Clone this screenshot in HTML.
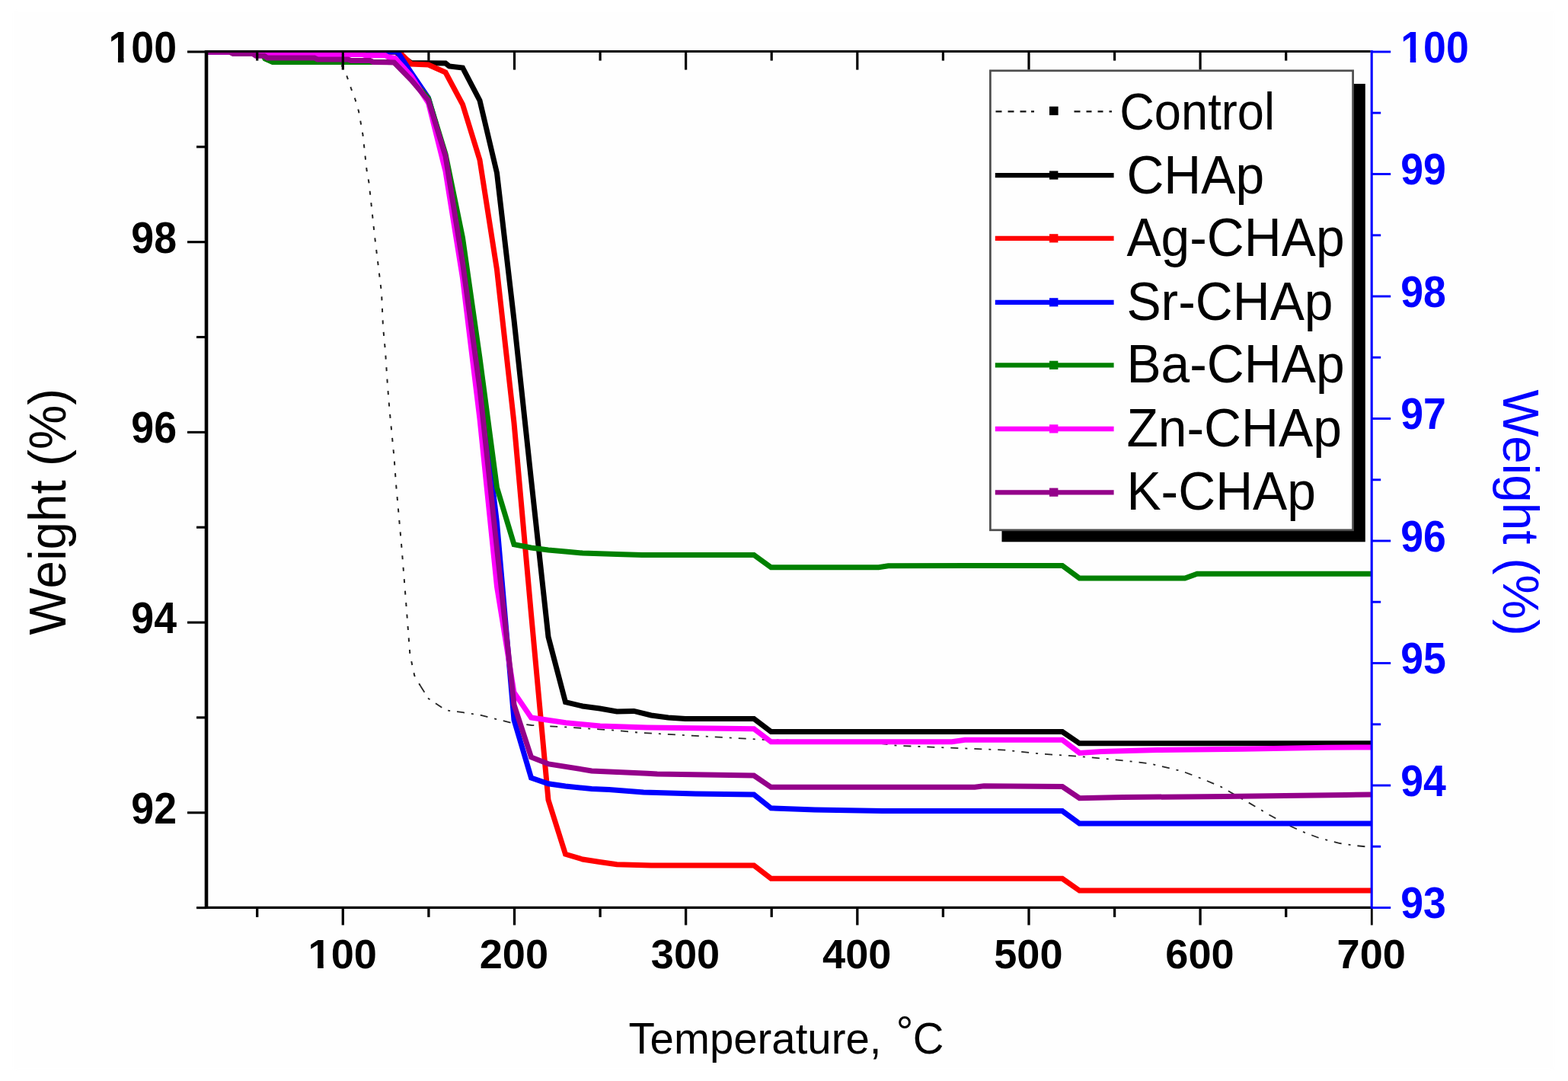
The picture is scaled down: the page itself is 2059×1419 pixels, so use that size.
<!DOCTYPE html>
<html lang="en">
<head>
<meta charset="utf-8">
<title>TGA: Weight (%) vs Temperature</title>
<style>
html,body{margin:0;padding:0;background:#ffffff;}
html{width:2059px;height:1419px;}
body{width:2059px;height:1419px;position:relative;font-family:"Liberation Sans",sans-serif;}
svg{display:block;position:absolute;left:0;top:0;width:2059px;height:1419px;}
text{font-family:"Liberation Sans",sans-serif;}
</style>
</head>
<body>
<svg width="2059" height="1419" viewBox="0 0 2059 1419">
<defs><filter id="soft" x="-2%" y="-2%" width="104%" height="104%"><feGaussianBlur stdDeviation="3.5"/></filter><clipPath id="plot"><rect x="271" y="68.8" width="1530.2" height="1123.8000000000002"/></clipPath></defs>
<rect x="0" y="0" width="2059" height="1419" fill="#ffffff"/>
<rect x="14" y="12" width="2030" height="1394" fill="#fefefe" filter="url(#soft)"/>

<g fill="none" stroke-linejoin="miter" stroke-linecap="butt" clip-path="url(#plot)">
<polyline points="270.0,69.0 440.0,72.0 450.0,88.0 455.3,99.5 461.0,116.0 466.6,131.0 471.0,146.0 473.5,160.0 476.5,177.0 479.0,200.0 481.5,223.0 484.5,240.0 492.0,310.0 501.0,384.0 503.0,429.0 506.0,461.0 509.0,507.0 511.5,538.0 514.5,569.0 517.5,600.0 520.0,635.0 527.7,721.6 533.5,795.4 538.4,859.5 544.2,886.7 552.0,900.3" stroke="#222" stroke-width="2" stroke-dasharray="5 10.5"/>
<polyline points="552.0,900.3 562.7,917.0 585.3,932.3 607.8,935.2 630.4,938.6 653.0,944.3 671.0,948.8 698.0,952.0 743.0,954.4 810.8,959.0 837.8,961.6 997.0,970.7 1150.0,975.3 1178.8,978.8 1320.0,984.6 1368.0,989.6 1418.7,993.0 1464.0,997.2 1509.6,1002.3 1552.5,1012.4 1577.8,1022.0 1603.0,1032.6 1638.4,1052.8 1666.0,1069.2 1694.0,1084.3 1714.0,1093.2 1734.4,1100.8 1759.6,1107.0 1779.8,1110.0 1800.0,1112.0" stroke="#262626" stroke-width="1.8" stroke-dasharray="10 9 3 9"/>
<polyline points="270.0,68.0 519.0,68.0 540.0,82.6 585.0,83.0 590.0,87.0 607.5,89.0 630.0,132.0 652.5,227.0 675.0,420.0 697.5,629.5 720.0,836.0 742.5,921.7 765.0,927.0 787.5,930.0 810.0,934.0 832.5,933.4 855.0,939.0 877.5,942.0 900.0,943.4 990.0,943.4 1012.5,960.6 1395.0,960.6 1417.5,975.8 1800.0,975.8" stroke="#000000" stroke-width="7.0"/>
<polyline points="270.0,68.0 524.0,68.0 540.0,84.0 562.5,85.0 585.0,95.0 607.5,137.0 630.0,210.0 652.5,354.0 675.0,555.0 697.5,806.0 720.0,1050.0 742.5,1121.3 765.0,1128.0 787.5,1131.5 810.0,1134.8 855.0,1136.0 990.0,1136.0 1012.5,1153.3 1395.0,1153.3 1417.5,1169.0 1800.0,1169.0" stroke="#ff0000" stroke-width="7.0"/>
<polyline points="270.0,68.0 522.0,68.0 540.0,95.5 562.5,128.5 585.0,206.0 607.5,340.0 630.0,500.0 652.5,686.0 675.0,945.0 697.5,1021.0 720.0,1028.8 742.5,1032.0 777.0,1035.6 800.0,1036.4 845.0,1040.0 913.6,1042.0 990.0,1043.0 1012.5,1060.9 1070.0,1063.0 1158.6,1064.6 1395.0,1064.6 1417.5,1081.0 1800.0,1081.0" stroke="#0000ff" stroke-width="7.0"/>
<polyline points="270.0,67.0 343.0,67.5 348.0,77.0 358.0,81.5 517.5,81.5 540.0,104.0 562.5,129.0 585.0,202.0 607.5,312.0 630.0,470.0 652.5,640.0 675.0,714.8 697.5,719.0 720.0,722.0 742.5,724.0 765.0,726.0 810.0,727.6 843.0,728.4 990.0,728.4 1012.5,744.8 1153.8,744.8 1166.4,742.8 1395.0,742.4 1417.5,759.0 1556.0,759.0 1572.0,753.2 1800.0,753.2" stroke="#008000" stroke-width="7.0"/>
<polyline points="270.0,68.0 345.0,68.5 352.0,70.0 413.0,70.0 417.0,71.4 476.0,71.4 480.0,72.8 506.0,72.8 510.0,75.0 519.0,76.5 540.0,100.0 562.5,135.0 585.0,225.0 607.5,365.0 630.0,550.0 652.5,770.0 675.0,909.0 697.5,942.0 743.0,948.8 788.0,953.0 850.0,955.0 990.0,956.8 1012.5,973.7 1250.0,973.7 1267.0,971.2 1395.0,971.2 1417.5,988.4 1446.5,986.4 1519.7,984.6 1631.0,983.3 1742.0,981.3 1800.0,981.0" stroke="#ff00ff" stroke-width="7.0"/>
<polyline points="270.0,67.9 301.0,67.9 306.0,70.6 332.0,70.6 336.0,73.2 347.0,73.2 351.0,76.1 413.0,76.1 417.0,78.0 457.0,78.0 461.0,79.5 486.0,79.5 490.0,81.4 517.5,82.0 540.0,105.0 562.5,131.6 585.0,205.0 607.5,345.0 630.0,510.0 652.5,720.0 675.0,925.0 697.5,993.9 720.6,1002.9 777.0,1011.9 850.0,1015.3 863.0,1016.0 990.0,1018.0 1012.5,1033.3 1280.0,1033.3 1292.0,1031.8 1395.0,1032.6 1417.5,1047.7 1474.0,1046.5 1608.0,1045.5 1767.0,1043.4 1800.0,1043.0" stroke="#94008a" stroke-width="7.0"/>
</g>
<g stroke="#000" fill="none">
<line x1="337.7" y1="67.6" x2="337.7" y2="79.6" stroke-width="3.2"/>
<line x1="450.3" y1="67.6" x2="450.3" y2="91.6" stroke-width="3.2"/>
<line x1="562.9" y1="67.6" x2="562.9" y2="79.6" stroke-width="3.2"/>
<line x1="675.5" y1="67.6" x2="675.5" y2="91.6" stroke-width="3.2"/>
<line x1="788.1" y1="67.6" x2="788.1" y2="79.6" stroke-width="3.2"/>
<line x1="900.6" y1="67.6" x2="900.6" y2="91.6" stroke-width="3.2"/>
<line x1="1013.2" y1="67.6" x2="1013.2" y2="79.6" stroke-width="3.2"/>
<line x1="1125.8" y1="67.6" x2="1125.8" y2="91.6" stroke-width="3.2"/>
<line x1="1238.4" y1="67.6" x2="1238.4" y2="79.6" stroke-width="3.2"/>
<line x1="1351.0" y1="67.6" x2="1351.0" y2="91.6" stroke-width="3.2"/>
<line x1="1463.6" y1="67.6" x2="1463.6" y2="79.6" stroke-width="3.2"/>
<line x1="1576.1" y1="67.6" x2="1576.1" y2="91.6" stroke-width="3.2"/>
<line x1="1688.7" y1="67.6" x2="1688.7" y2="79.6" stroke-width="3.2"/>
<line x1="337.7" y1="1191.4" x2="337.7" y2="1203.9" stroke-width="3.3"/>
<line x1="450.3" y1="1191.4" x2="450.3" y2="1214.4" stroke-width="3.3"/>
<line x1="562.9" y1="1191.4" x2="562.9" y2="1203.9" stroke-width="3.3"/>
<line x1="675.5" y1="1191.4" x2="675.5" y2="1214.4" stroke-width="3.3"/>
<line x1="788.1" y1="1191.4" x2="788.1" y2="1203.9" stroke-width="3.3"/>
<line x1="900.6" y1="1191.4" x2="900.6" y2="1214.4" stroke-width="3.3"/>
<line x1="1013.2" y1="1191.4" x2="1013.2" y2="1203.9" stroke-width="3.3"/>
<line x1="1125.8" y1="1191.4" x2="1125.8" y2="1214.4" stroke-width="3.3"/>
<line x1="1238.4" y1="1191.4" x2="1238.4" y2="1203.9" stroke-width="3.3"/>
<line x1="1351.0" y1="1191.4" x2="1351.0" y2="1214.4" stroke-width="3.3"/>
<line x1="1463.6" y1="1191.4" x2="1463.6" y2="1203.9" stroke-width="3.3"/>
<line x1="1576.1" y1="1191.4" x2="1576.1" y2="1214.4" stroke-width="3.3"/>
<line x1="1688.7" y1="1191.4" x2="1688.7" y2="1203.9" stroke-width="3.3"/>
<line x1="1801.3" y1="1191.4" x2="1801.3" y2="1214.4" stroke-width="2.8"/>
<line x1="246" y1="68.0" x2="271" y2="68.0" stroke-width="3.1"/>
<line x1="258" y1="192.8" x2="271" y2="192.8" stroke-width="3.1"/>
<line x1="246" y1="317.7" x2="271" y2="317.7" stroke-width="3.1"/>
<line x1="258" y1="442.5" x2="271" y2="442.5" stroke-width="3.1"/>
<line x1="246" y1="567.4" x2="271" y2="567.4" stroke-width="3.1"/>
<line x1="258" y1="692.2" x2="271" y2="692.2" stroke-width="3.1"/>
<line x1="246" y1="817.1" x2="271" y2="817.1" stroke-width="3.1"/>
<line x1="258" y1="941.9" x2="271" y2="941.9" stroke-width="3.1"/>
<line x1="246" y1="1066.8" x2="271" y2="1066.8" stroke-width="3.1"/>
<line x1="258" y1="1191.6" x2="271" y2="1191.6" stroke-width="3.1"/>
<line x1="271" y1="66.1" x2="271" y2="1193.0" stroke-width="4.6"/>
<line x1="271" y1="67.6" x2="1799.7" y2="67.6" stroke-width="3"/>
<line x1="271" y1="1191.4" x2="1801.2" y2="1191.4" stroke-width="3.3"/>
</g>
<g stroke="#0000ff" fill="none">
<line x1="1801.2" y1="68.0" x2="1826.2" y2="68.0" stroke-width="2.9"/>
<line x1="1801.2" y1="148.2" x2="1813.2" y2="148.2" stroke-width="2.9"/>
<line x1="1801.2" y1="228.5" x2="1826.2" y2="228.5" stroke-width="2.9"/>
<line x1="1801.2" y1="308.8" x2="1813.2" y2="308.8" stroke-width="2.9"/>
<line x1="1801.2" y1="389.0" x2="1826.2" y2="389.0" stroke-width="2.9"/>
<line x1="1801.2" y1="469.2" x2="1813.2" y2="469.2" stroke-width="2.9"/>
<line x1="1801.2" y1="549.5" x2="1826.2" y2="549.5" stroke-width="2.9"/>
<line x1="1801.2" y1="629.8" x2="1813.2" y2="629.8" stroke-width="2.9"/>
<line x1="1801.2" y1="710.0" x2="1826.2" y2="710.0" stroke-width="2.9"/>
<line x1="1801.2" y1="790.2" x2="1813.2" y2="790.2" stroke-width="2.9"/>
<line x1="1801.2" y1="870.5" x2="1826.2" y2="870.5" stroke-width="2.9"/>
<line x1="1801.2" y1="950.8" x2="1813.2" y2="950.8" stroke-width="2.9"/>
<line x1="1801.2" y1="1031.0" x2="1826.2" y2="1031.0" stroke-width="2.9"/>
<line x1="1801.2" y1="1111.2" x2="1813.2" y2="1111.2" stroke-width="2.9"/>
<line x1="1801.2" y1="1191.5" x2="1826.2" y2="1191.5" stroke-width="2.9"/>
<line x1="1801.2" y1="66.1" x2="1801.2" y2="1192.6000000000001" stroke-width="3.1"/>
</g>
<text transform="translate(232.0,81.9) scale(0.9750,1.0300)" font-size="55" text-anchor="end" fill="#000" font-weight="bold">100</text>
<text transform="translate(232.0,331.6) scale(0.9750,1.0300)" font-size="55" text-anchor="end" fill="#000" font-weight="bold">98</text>
<text transform="translate(232.0,581.3) scale(0.9750,1.0300)" font-size="55" text-anchor="end" fill="#000" font-weight="bold">96</text>
<text transform="translate(232.0,831.0) scale(0.9750,1.0300)" font-size="55" text-anchor="end" fill="#000" font-weight="bold">94</text>
<text transform="translate(232.0,1080.7) scale(0.9750,1.0300)" font-size="55" text-anchor="end" fill="#000" font-weight="bold">92</text>
<rect x="144.91" y="75.52" width="10.04" height="7.38" fill="#fefefe"/><rect x="162.50" y="75.52" width="9.36" height="7.38" fill="#fefefe"/>
<text transform="translate(449.7,1271.0) scale(0.9840,0.9750)" font-size="55" text-anchor="middle" fill="#000" font-weight="bold">100</text>
<text transform="translate(674.9,1271.0) scale(0.9840,0.9750)" font-size="55" text-anchor="middle" fill="#000" font-weight="bold">200</text>
<text transform="translate(900.0,1271.0) scale(0.9840,0.9750)" font-size="55" text-anchor="middle" fill="#000" font-weight="bold">300</text>
<text transform="translate(1125.2,1271.0) scale(0.9840,0.9750)" font-size="55" text-anchor="middle" fill="#000" font-weight="bold">400</text>
<text transform="translate(1350.4,1271.0) scale(0.9840,0.9750)" font-size="55" text-anchor="middle" fill="#000" font-weight="bold">500</text>
<text transform="translate(1575.5,1271.0) scale(0.9840,0.9750)" font-size="55" text-anchor="middle" fill="#000" font-weight="bold">600</text>
<text transform="translate(1800.7,1271.0) scale(0.9840,0.9750)" font-size="55" text-anchor="middle" fill="#000" font-weight="bold">700</text>
<rect x="406.96" y="1264.93" width="10.12" height="7.07" fill="#fefefe"/><rect x="424.71" y="1264.93" width="9.44" height="7.07" fill="#fefefe"/>
<text transform="translate(1839.3,81.6) scale(0.9750,1.0300)" font-size="55" text-anchor="start" fill="#0000ff" font-weight="bold">100</text>
<text transform="translate(1839.3,242.1) scale(0.9750,1.0300)" font-size="55" text-anchor="start" fill="#0000ff" font-weight="bold">99</text>
<text transform="translate(1839.3,402.6) scale(0.9750,1.0300)" font-size="55" text-anchor="start" fill="#0000ff" font-weight="bold">98</text>
<text transform="translate(1839.3,563.1) scale(0.9750,1.0300)" font-size="55" text-anchor="start" fill="#0000ff" font-weight="bold">97</text>
<text transform="translate(1839.3,723.6) scale(0.9750,1.0300)" font-size="55" text-anchor="start" fill="#0000ff" font-weight="bold">96</text>
<text transform="translate(1839.3,884.1) scale(0.9750,1.0300)" font-size="55" text-anchor="start" fill="#0000ff" font-weight="bold">95</text>
<text transform="translate(1839.3,1044.6) scale(0.9750,1.0300)" font-size="55" text-anchor="start" fill="#0000ff" font-weight="bold">94</text>
<text transform="translate(1839.3,1205.1) scale(0.9750,1.0300)" font-size="55" text-anchor="start" fill="#0000ff" font-weight="bold">93</text>
<rect x="1841.68" y="75.22" width="10.04" height="7.38" fill="#fefefe"/><rect x="1859.27" y="75.22" width="9.36" height="7.38" fill="#fefefe"/>
<text transform="translate(1032.4,1382.6) scale(1.0246,1.05)" font-size="55" text-anchor="middle" fill="#000">Temperature, <tspan dx="3.5" dy="-8.5">°</tspan><tspan dx="-0.5" dy="8.5">C</tspan></text>
<text transform="translate(85.5,671.6) rotate(-90) scale(1.0000,1.0350)" font-size="65.7" text-anchor="middle" fill="#000">Weight (%)</text>
<text transform="translate(1973.8,673.0) rotate(90) scale(1.0000,1.0300)" font-size="65.6" text-anchor="middle" fill="#0000ff">Weight (%)</text>
<rect x="1315.5" y="110" width="477.3" height="601.3" fill="#000"/>
<rect x="1300.4" y="92.8" width="476.2" height="603" fill="#fefefe" stroke="#4d4d4d" stroke-width="2.7"/>
<line x1="1307.5" y1="146.4" x2="1360" y2="146.4" stroke="#111" stroke-width="2.1" stroke-dasharray="8 8 8 8 8 6.5 4 20"/>
<line x1="1410.5" y1="146.4" x2="1462" y2="146.4" stroke="#111" stroke-width="2.1" stroke-dasharray="8 8 7 8 7 8 3.5 20"/>
<rect x="1378" y="139.79999999999998" width="11.6" height="11.4" fill="#000"/>
<text transform="translate(1470.2,170.0) scale(1.0000,1.0750)" font-size="63.2" text-anchor="start" fill="#000">Control</text>
<line x1="1306.8" y1="230.1" x2="1462.6" y2="230.1" stroke="#000000" stroke-width="6.3"/>
<rect x="1378" y="224.4" width="11.4" height="11.2" fill="#000000"/>
<text transform="translate(1479.4,253.8) scale(1.0000,1.0330)" font-size="67.8" text-anchor="start" fill="#000">CHAp</text>
<line x1="1306.8" y1="312.90000000000003" x2="1462.6" y2="312.90000000000003" stroke="#ff0000" stroke-width="6.3"/>
<rect x="1378" y="307.2" width="11.4" height="11.2" fill="#ff0000"/>
<text transform="translate(1479.4,335.7) scale(1.0000,1.0330)" font-size="67.8" text-anchor="start" fill="#000">Ag-CHAp</text>
<line x1="1306.8" y1="396.90000000000003" x2="1462.6" y2="396.90000000000003" stroke="#0000ff" stroke-width="6.3"/>
<rect x="1378" y="391.2" width="11.4" height="11.2" fill="#0000ff"/>
<text transform="translate(1479.4,420.1) scale(1.0000,1.0330)" font-size="67.8" text-anchor="start" fill="#000">Sr-CHAp</text>
<line x1="1306.8" y1="479.40000000000003" x2="1462.6" y2="479.40000000000003" stroke="#008000" stroke-width="6.3"/>
<rect x="1378" y="473.7" width="11.4" height="11.2" fill="#008000"/>
<text transform="translate(1479.4,502.0) scale(1.0000,1.0330)" font-size="67.8" text-anchor="start" fill="#000">Ba-CHAp</text>
<line x1="1306.8" y1="563.0" x2="1462.6" y2="563.0" stroke="#ff00ff" stroke-width="6.3"/>
<rect x="1378" y="557.3" width="11.4" height="11.2" fill="#ff00ff"/>
<text transform="translate(1479.4,585.6) scale(1.0000,1.0330)" font-size="67.8" text-anchor="start" fill="#000">Zn-CHAp</text>
<line x1="1306.8" y1="646.3000000000001" x2="1462.6" y2="646.3000000000001" stroke="#94008a" stroke-width="6.3"/>
<rect x="1378" y="640.6" width="11.4" height="11.2" fill="#94008a"/>
<text transform="translate(1479.4,668.7) scale(1.0000,1.0330)" font-size="67.8" text-anchor="start" fill="#000">K-CHAp</text>
</svg>
</body>
</html>
